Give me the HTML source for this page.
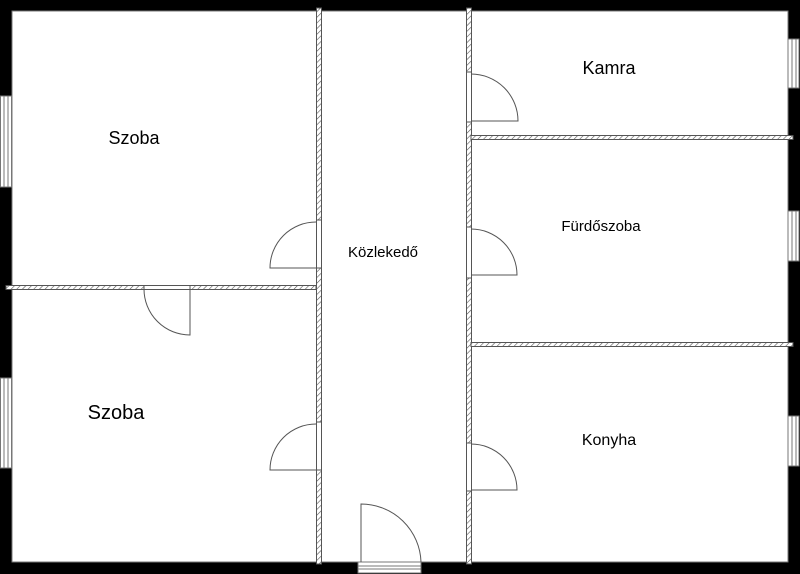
<!DOCTYPE html>
<html><head><style>
html,body{margin:0;padding:0;background:#fff}
svg{display:block}
text{font-family:"Liberation Sans","DejaVu Sans",sans-serif;fill:#000}
</style></head><body>
<svg width="800" height="574" viewBox="0 0 800 574" xmlns="http://www.w3.org/2000/svg">
<defs>
<pattern id="h" width="4" height="4" patternUnits="userSpaceOnUse" patternTransform="rotate(45)">
<rect width="4" height="4" fill="#fff"/><line x1="0" y1="0" x2="0" y2="4" stroke="#555" stroke-width="1.2"/>
</pattern>
</defs>
<rect x="0" y="0" width="800" height="11" fill="#000"/>
<rect x="0" y="562" width="800" height="12" fill="#000"/>
<rect x="0" y="0" width="12" height="574" fill="#000"/>
<rect x="788" y="0" width="12" height="574" fill="#000"/>
<g fill="#fff" stroke="#777" stroke-width="1">
<rect x="0.5" y="96" width="11" height="91"/><line x1="4" y1="96" x2="4" y2="187"/><line x1="8" y1="96" x2="8" y2="187"/>
<rect x="0.5" y="378" width="11" height="90"/><line x1="4" y1="378" x2="4" y2="468"/><line x1="8" y1="378" x2="8" y2="468"/>
<rect x="788" y="39" width="11" height="49"/><line x1="792" y1="39" x2="792" y2="88"/><line x1="796" y1="39" x2="796" y2="88"/>
<rect x="788" y="211" width="11" height="50"/><line x1="792" y1="211" x2="792" y2="261"/><line x1="796" y1="211" x2="796" y2="261"/>
<rect x="788" y="416" width="11" height="50"/><line x1="792" y1="416" x2="792" y2="466"/><line x1="796" y1="416" x2="796" y2="466"/>
<rect x="358" y="562" width="63" height="11"/><line x1="358" y1="566" x2="421" y2="566"/><line x1="358" y1="569" x2="421" y2="569"/>
</g>
<rect x="12" y="11" width="776" height="551" fill="none" stroke="#777" stroke-width="1"/>
<g fill="url(#h)" stroke="#555" stroke-width="1">
<rect x="316.5" y="8" width="5" height="212"/>
<rect x="316.5" y="268" width="5" height="154"/>
<rect x="316.5" y="470" width="5" height="94"/>
<rect x="466.5" y="8" width="5" height="64"/>
<rect x="466.5" y="122" width="5" height="105"/>
<rect x="466.5" y="278" width="5" height="165"/>
<rect x="466.5" y="491" width="5" height="73"/>
<rect x="6" y="285.5" width="138" height="4"/>
<rect x="190" y="285.5" width="126" height="4"/>
<rect x="471" y="135.5" width="322" height="4"/>
<rect x="471" y="342.5" width="322" height="4"/>
</g>
<g fill="#fff" stroke="#555" stroke-width="1">
<rect x="316.5" y="220" width="5" height="48"/>
<rect x="316.5" y="422" width="5" height="48"/>
<rect x="466.5" y="72" width="5" height="50"/>
<rect x="466.5" y="227" width="5" height="51"/>
<rect x="466.5" y="443" width="5" height="48"/>
<rect x="144" y="285.5" width="46" height="4"/>
</g>
<g fill="none" stroke="#555" stroke-width="1">
<path d="M316 222 A46 46 0 0 0 270 268 L316 268"/>
<path d="M316 424 A46 46 0 0 0 270 470 L316 470"/>
<path d="M471 74 A47 47 0 0 1 518 121 L471 121"/>
<path d="M471 229 A46 46 0 0 1 517 275 L471 275"/>
<path d="M471 444 A46 46 0 0 1 517 490 L471 490"/>
<path d="M144 289 A46 46 0 0 0 190 335 L190 289"/>
<path d="M361 562 L361 504 A60 60 0 0 1 421 562"/>
</g>
<text x="134" y="144" font-size="18" text-anchor="middle">Szoba</text>
<text x="116" y="419" font-size="20" text-anchor="middle">Szoba</text>
<text x="383" y="257" font-size="15" text-anchor="middle">Közlekedő</text>
<text x="609" y="74" font-size="18" text-anchor="middle">Kamra</text>
<text x="601" y="231" font-size="15" text-anchor="middle">Fürdőszoba</text>
<text x="609" y="445" font-size="16" text-anchor="middle">Konyha</text>
</svg>
</body></html>
